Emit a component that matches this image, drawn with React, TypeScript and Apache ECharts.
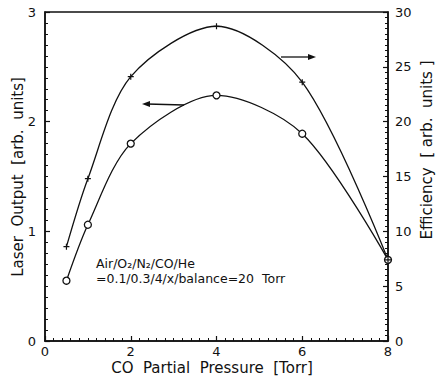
import React, { useEffect, useRef } from "react";
import * as echarts from "echarts";

// CO partial pressure (Torr)
const pressure = [0.5, 1, 2, 4, 6, 8];
// Laser output (arb. units), left axis, open circles
const laserOutput = [0.55, 1.06, 1.8, 2.24, 1.89, 0.74];
// Efficiency (arb. units), right axis, plus marks
const efficiency = [8.6, 14.8, 24.1, 28.7, 23.6, 7.4];

const xTitle = "CO  Partial  Pressure  [Torr]";
const leftTitle = "Laser  Output  [arb.  units]";
const rightTitle = "Efficiency  [ arb.  units ]";
const noteLine1 = "Air/O\u2082/N\u2082/CO/He";
const noteLine2 = "=0.1/0.3/4/x/balance=20  Torr";

const FONT = "DejaVu Sans";
const INK = "#111";

export default function App() {
  const ref = useRef<HTMLDivElement>(null);

  useEffect(() => {
    if (!ref.current) return;
    const chart = echarts.init(ref.current, undefined, { renderer: "svg" });

    const axisLine = { show: true, lineStyle: { color: INK, width: 1.5 } };
    const axisTick = { show: true, inside: true, length: 5, lineStyle: { color: INK, width: 1.2 } };
    const minorTick = { show: true, splitNumber: 10, length: 3, lineStyle: { color: INK, width: 1 } };
    const axisLabel = { color: INK, fontSize: 13, fontFamily: FONT };

    chart.setOption({
      animation: false,
      backgroundColor: "#fff",
      grid: {
        left: 45,
        right: 50,
        top: 12,
        bottom: 40,
        show: true,
        borderColor: INK,
        borderWidth: 1.5,
        backgroundColor: "transparent",
      },
      xAxis: {
        type: "value",
        min: 0,
        max: 8,
        interval: 2,
        axisLine,
        axisTick,
        minorTick,
        splitLine: { show: false },
        axisLabel: { ...axisLabel, margin: 4 },
      },
      yAxis: [
        {
          type: "value",
          position: "left",
          min: 0,
          max: 3,
          interval: 1,
          axisLine,
          axisTick,
          minorTick,
          splitLine: { show: false },
          axisLabel: { ...axisLabel, margin: 9 },
        },
        {
          type: "value",
          position: "right",
          min: 0,
          max: 30,
          interval: 5,
          axisLine,
          axisTick,
          minorTick,
          splitLine: { show: false },
          axisLabel: { ...axisLabel, margin: 7 },
        },
      ],
      series: [
        {
          name: "Laser Output",
          type: "line",
          yAxisIndex: 0,
          data: pressure.map((p, i) => [p, laserOutput[i]]),
          smooth: 0.3,
          symbol: "circle",
          symbolSize: 7,
          itemStyle: { color: "#fff", borderColor: INK, borderWidth: 1.3 },
          lineStyle: { color: INK, width: 1.3 },
          z: 3,
        },
        {
          name: "Efficiency",
          type: "line",
          yAxisIndex: 1,
          data: pressure.map((p, i) => [p, efficiency[i]]),
          smooth: 0.3,
          symbol: "path://M2,0H3V2H5V3H3V5H2V3H0V2H2Z",
          symbolSize: 6,
          itemStyle: { color: INK, borderWidth: 0 },
          lineStyle: { color: INK, width: 1.3 },
          z: 3,
        },
      ],
      graphic: [
        {
          type: "text",
          x: 212,
          y: 368,
          style: { text: xTitle, fill: INK, font: `15px "${FONT}"`, textAlign: "center", textVerticalAlign: "middle" },
        },
        {
          type: "text",
          x: 18,
          y: 177,
          rotation: Math.PI / 2,
          style: { text: leftTitle, fill: INK, font: `15px "${FONT}"`, textAlign: "center", textVerticalAlign: "middle" },
        },
        {
          type: "text",
          x: 427,
          y: 150,
          rotation: Math.PI / 2,
          style: { text: rightTitle, fill: INK, font: `15px "${FONT}"`, textAlign: "center", textVerticalAlign: "middle" },
        },
        {
          type: "text",
          x: 96,
          y: 263,
          style: { text: noteLine1, fill: INK, font: `12.5px "${FONT}"`, textAlign: "left", textVerticalAlign: "middle" },
        },
        {
          type: "text",
          x: 96,
          y: 278,
          style: { text: noteLine2, fill: INK, font: `12.5px "${FONT}"`, textAlign: "left", textVerticalAlign: "middle" },
        },
        // arrow pointing right (efficiency -> right axis)
        {
          type: "line",
          shape: { x1: 281, y1: 57, x2: 312, y2: 57 },
          style: { stroke: INK, lineWidth: 1.3 },
        },
        {
          type: "polygon",
          shape: { points: [[316, 57], [308, 54], [308, 60]] },
          style: { fill: INK },
        },
        // arrow pointing left (laser output -> left axis)
        {
          type: "line",
          shape: { x1: 147, y1: 104, x2: 184, y2: 105 },
          style: { stroke: INK, lineWidth: 1.3 },
        },
        {
          type: "polygon",
          shape: { points: [[142, 104], [150, 101], [150, 107]] },
          style: { fill: INK },
        },
      ],
    });

    return () => chart.dispose();
  }, []);

  return (
    <div
      ref={ref}
      style={{ position: "fixed", left: 0, top: 0, width: 438, height: 381, background: "#fff" }}
    />
  );
}
